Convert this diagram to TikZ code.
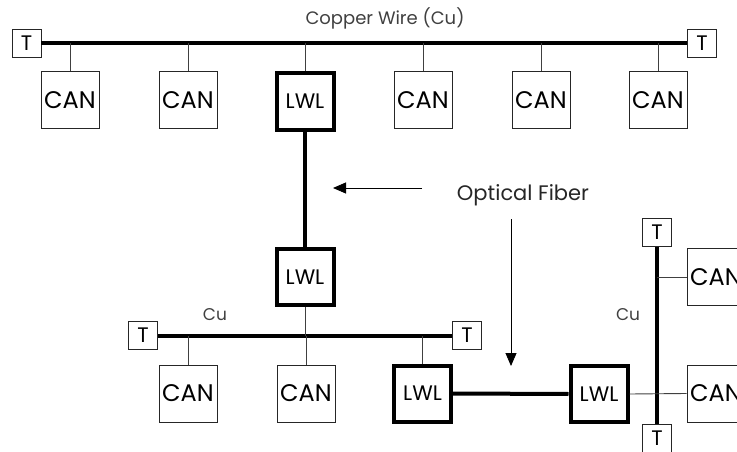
\documentclass[tikz,border=0pt]{standalone}
\usepackage{fontspec}
\setmainfont{Poppins}
\usetikzlibrary{arrows.meta}
\tikzset{
  unitbox/.style={draw=black!85, line width=0.9pt, minimum width=58pt, minimum height=57pt, inner sep=0pt, font=\fontsize{24}{24}\selectfont},
  lwlbox/.style={draw=black, line width=4pt, minimum width=57pt, minimum height=56pt, inner sep=0pt, font=\fontsize{21}{21}\selectfont},
  termbox/.style={draw=black!85, line width=0.9pt, minimum width=29pt, minimum height=28pt, inner sep=0pt, font=\fontsize{21}{21}\selectfont},
  bus/.style={line width=4pt, draw=black},
  fiber/.style={line width=4pt, draw=black},
  drop/.style={line width=0.9pt, draw=black!75},
  lbl/.style={inner sep=0pt, font=\fontsize{17}{17}\selectfont, text=black!75},
  pointer/.style={line width=0.9pt, draw=black, -{Triangle[length=13pt,width=11pt]}}
}
\begin{document}
\begin{tikzpicture}[x=1pt,y=-1pt]
\path[use as bounding box] (0,0) rectangle (737,452);
\clip (0,0) rectangle (737,452);
% top copper segment
\node[termbox] (t1) at (26.5,43) {T};
\node[termbox] (t2) at (702,43) {T};
\draw[bus] (t1.east) -- (t2.west);
\node[lbl, font=\fontsize{18}{18}\selectfont] (cw) at (385,18) {Copper Wire (Cu)};
\node[unitbox] (c1) at (70,100) {CAN};
\node[unitbox] (c2) at (188,100) {CAN};
\node[lwlbox]  (l1) at (305,101.5) {LWL};
\node[unitbox] (c3) at (423,100) {CAN};
\node[unitbox] (c4) at (541,100) {CAN};
\node[unitbox] (c5) at (658,100) {CAN};
\foreach \n in {c1,c2,l1,c3,c4,c5} \draw[drop] (\n.north) -- (\n.north |- t1.east);
% fiber down
\node[lwlbox] (l2) at (305,277) {LWL};
\draw[fiber] (l1.south) -- (l2.north);
% lower-left copper segment
\node[termbox] (t3) at (143,335.5) {T};
\node[termbox] (t4) at (467,335.5) {T};
\draw[bus] (t3.east) -- (t4.west);
\node[lbl] (cu1) at (215,315) {Cu};
\node[unitbox] (c6) at (188,393.5) {CAN};
\node[unitbox] (c7) at (306,393.5) {CAN};
\node[lwlbox]  (l3) at (422.5,393.5) {LWL};
\draw[drop] (l2.south) -- (l2.south |- t3.east);
\foreach \n in {c6,c7,l3} \draw[drop] (\n.north) -- (\n.north |- t3.east);
% fiber right
\node[lwlbox] (l4) at (599,394) {LWL};
\draw[fiber] (l3.east) -- (l4.west);
% right vertical copper segment
\node[termbox] (t5) at (657,232.5) {T};
\node[termbox] (t6) at (657,438) {T};
\draw[bus] (t5.south) -- (t6.north);
\node[lbl] (cu2) at (628,315) {Cu};
\node[unitbox] (c8) at (716,277) {CAN};
\node[unitbox] (c9) at (716,393.5) {CAN};
\draw[drop] (c8.west) -- (c8.west -| t5.south);
\draw[drop] (l4.east) -- (c9.west);
% labels and pointers
\node[lbl, font=\fontsize{21}{21}\selectfont, text=black!85] (of) at (523,195) {Optical Fiber};
\coordinate (a1s) at (422,188);
\coordinate (a1e) at (333,188);
\coordinate (a2s) at (511,219);
\coordinate (a2e) at (511,366);
\draw[pointer] (a1s) -- (a1e);
\draw[pointer] (a2s) -- (a2e);
\end{tikzpicture}
\end{document}
